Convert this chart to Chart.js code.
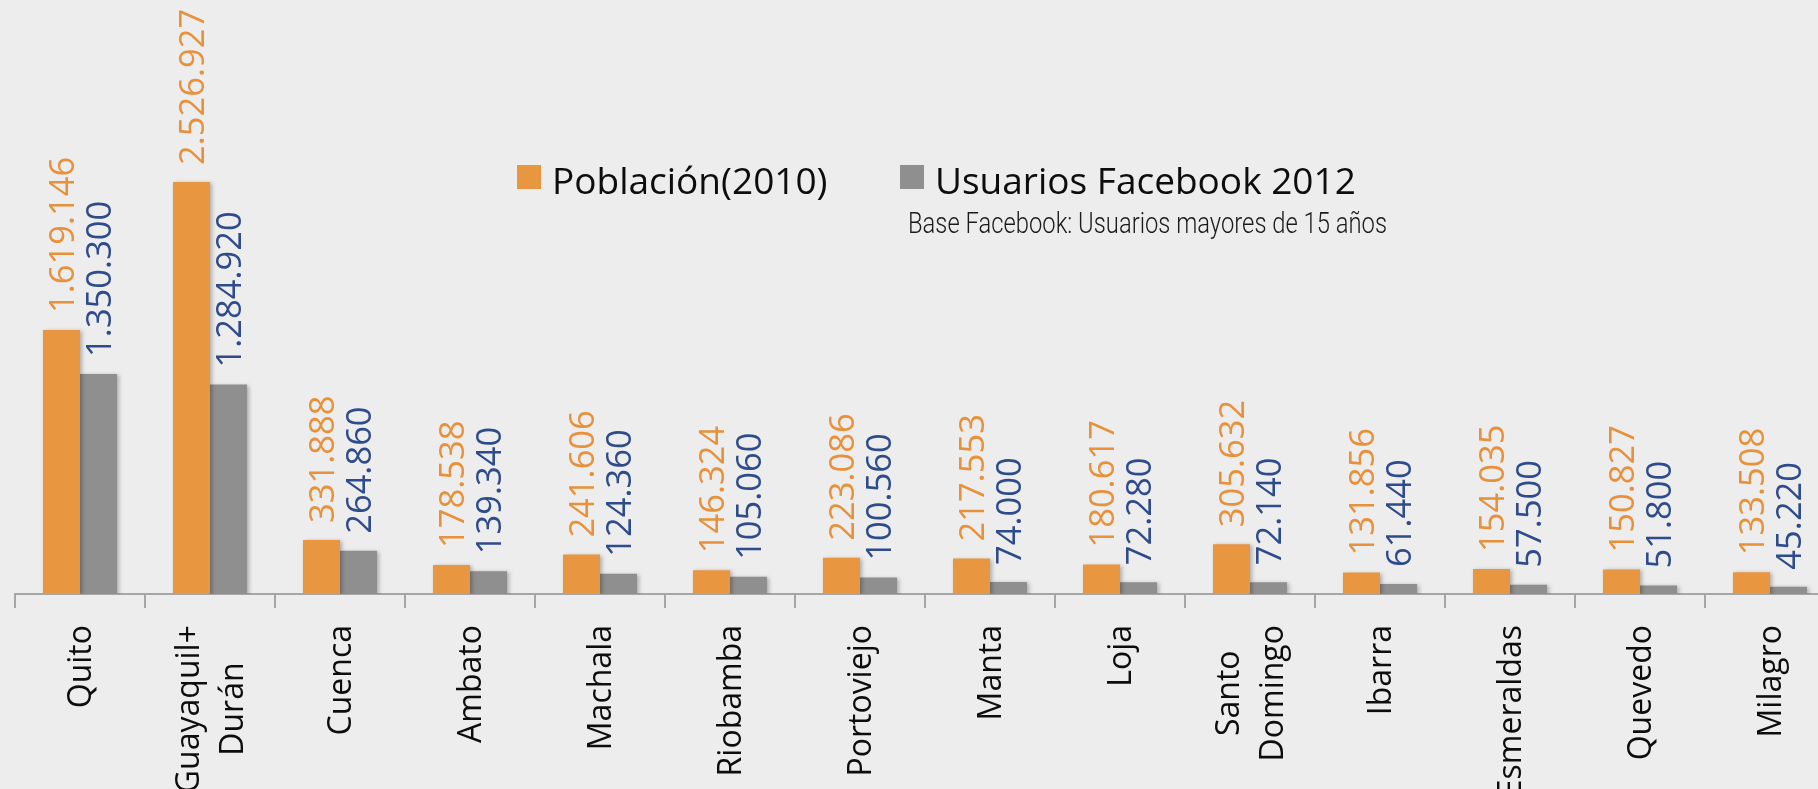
<!DOCTYPE html>
<html>
<head>
<meta charset="utf-8">
<script src="https://cdn.jsdelivr.net/npm/chart.js@4"></script>
<style>
  html, body { margin: 0; padding: 0; background: #EDEDED; overflow: hidden; }
  #wrap { position: relative; width: 1818px; height: 789px; overflow: hidden; }
  #wrap canvas { position: absolute; left: 0; top: 0; }
</style>
</head>
<body>
<div id="wrap"><canvas id="myChart" width="1850" height="789"></canvas></div>
<script>
var ciudades = ['Quito', ['Guayaquil+', 'Durán'], 'Cuenca', 'Ambato', 'Machala', 'Riobamba',
  'Portoviejo', 'Manta', 'Loja', ['Santo', 'Domingo'], 'Ibarra', 'Esmeraldas', 'Quevedo', 'Milagro'];
var poblacion2010 = [1619146, 2526927, 331888, 178538, 241606, 146324, 223086,
  217553, 180617, 305632, 131856, 154035, 150827, 133508];
var usuariosFacebook2012 = [1350300, 1284920, 264860, 139340, 124360, 105060, 100560,
  74000, 72280, 72140, 61440, 57500, 51800, 45220];
var nota = 'Base Facebook: Usuarios mayores de 15 años';

function miles(n) {
  return String(n).replace(/\B(?=(\d{3})+(?!\d))/g, '.');
}

// etiquetas de valor giradas encima de cada barra
var etiquetasValor = {
  id: 'etiquetasValor',
  afterDatasetsDraw: function(chart) {
    var ctx = chart.ctx;
    chart.data.datasets.forEach(function(ds, i) {
      var meta = chart.getDatasetMeta(i);
      meta.data.forEach(function(bar, j) {
        ctx.save();
        ctx.translate(bar.x + 3, bar.y - 17);
        ctx.rotate(-Math.PI / 2);
        ctx.font = '34.5px "Open Sans"';
        ctx.fillStyle = ds.labelColor;
        ctx.textAlign = 'left';
        ctx.textBaseline = 'middle';
        ctx.fillText(miles(ds.data[j]), 0, 0);
        ctx.restore();
      });
    });
  }
};

// nombres de ciudad verticales, lineas centradas entre si
var etiquetasCiudad = {
  id: 'etiquetasCiudad',
  afterDraw: function(chart) {
    var ctx = chart.ctx;
    var xScale = chart.scales.x;
    var top = xScale.top + 31;
    var lh = 44;
    ctx.save();
    ctx.font = '32px "Open Sans"';
    ctx.fillStyle = '#0D0D0D';
    ctx.textAlign = 'center';
    ctx.textBaseline = 'middle';
    chart.data.labels.forEach(function(lab, i) {
      var lines = Array.isArray(lab) ? lab : [lab];
      var w = 0;
      lines.forEach(function(l) { w = Math.max(w, ctx.measureText(l).width); });
      var x = xScale.getPixelForTick(i);
      lines.forEach(function(l, k) {
        ctx.save();
        ctx.translate(x + 2 + (k - (lines.length - 1) / 2) * lh, top + w / 2);
        ctx.rotate(-Math.PI / 2);
        ctx.fillText(l, 0, 0);
        ctx.restore();
      });
    });
    ctx.restore();
  }
};

// sombra suave de las barras
var sombra = {
  id: 'sombra',
  beforeDatasetsDraw: function(chart) {
    var ctx = chart.ctx;
    ctx.save();
    ctx.shadowColor = 'rgba(0,0,0,0.28)';
    ctx.shadowBlur = 4;
    ctx.shadowOffsetX = 2;
    ctx.shadowOffsetY = 1;
  },
  afterDatasetsDraw: function(chart) {
    chart.ctx.restore();
  }
};

// leyenda y nota colocadas como en el original
var leyenda = {
  id: 'leyenda',
  afterDraw: function(chart) {
    var ctx = chart.ctx;
    var xs = [517, 900];
    ctx.save();
    chart.data.datasets.forEach(function(ds, i) {
      ctx.fillStyle = ds.backgroundColor;
      ctx.fillRect(xs[i], 165, 24, 24);
      ctx.fillStyle = '#0D0D0D';
      ctx.font = '37px "Open Sans"';
      ctx.textAlign = 'left';
      ctx.textBaseline = 'alphabetic';
      ctx.fillText(ds.label, xs[i] + 35, 194);
    });
    ctx.font = '300 29px Roboto';
    var w = ctx.measureText(nota).width;
    ctx.translate(908, 233);
    ctx.scale(479 / w, 1);
    ctx.fillStyle = '#1A1A1A';
    ctx.fillText(nota, 0, 0);
    ctx.restore();
  }
};

function dibujar() {
  var ctx = document.getElementById('myChart').getContext('2d');
  var myChart = new Chart(ctx, {
    type: 'bar',
    data: {
      labels: ciudades,
      datasets: [{
        label: 'Población(2010)',
        data: poblacion2010,
        backgroundColor: '#E8963F',
        labelColor: '#E8913B'
      },
      {
        label: 'Usuarios Facebook 2012',
        data: usuariosFacebook2012,
        backgroundColor: '#8F8F8F',
        labelColor: '#2E4C8C'
      }]
    },
    options: {
      responsive: false,
      animation: false,
      devicePixelRatio: 1,
      categoryPercentage: 0.57,
      barPercentage: 1.0,
      layout: { padding: { left: 15, right: 15, top: 0, bottom: 0 } },
      plugins: {
        legend: { display: false },
        title: { display: false },
        tooltip: { enabled: false }
      },
      scales: {
        y: {
          display: false,
          min: 0,
          max: 3644000
        },
        x: {
          afterFit: function(scale) { scale.height = 195; },
          border: { display: true, color: '#A6A6A6', width: 2 },
          grid: {
            display: true,
            drawOnChartArea: false,
            drawTicks: true,
            tickLength: 14,
            color: '#A6A6A6',
            tickColor: '#A6A6A6',
            lineWidth: 2
          },
          ticks: { display: false }
        }
      }
    },
    plugins: [sombra, etiquetasValor, etiquetasCiudad, leyenda]
  });
}

Promise.all([
  document.fonts.load('32px "Open Sans"'),
  document.fonts.load('300 29px Roboto')
]).then(dibujar, dibujar);
</script>
</body>
</html>
